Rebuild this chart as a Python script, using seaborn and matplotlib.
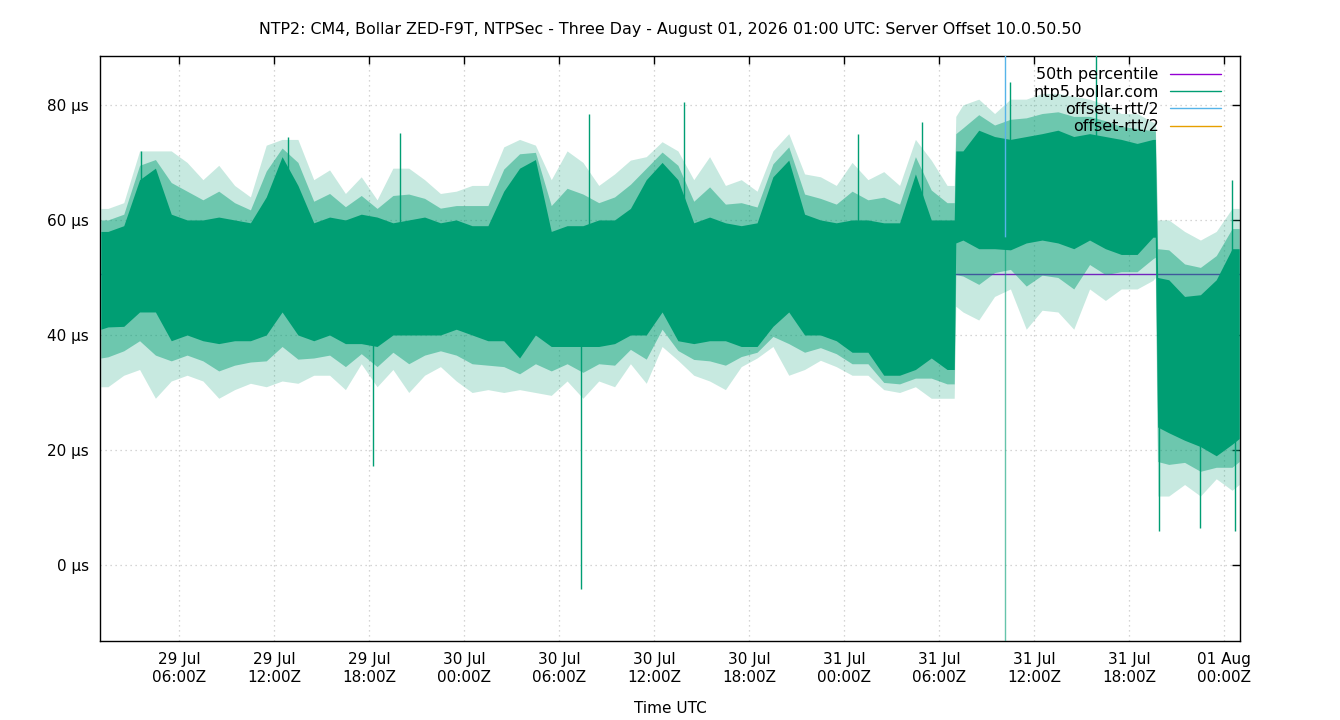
import numpy as np
import pandas as pd
import matplotlib
matplotlib.use('Agg')
import matplotlib.pyplot as plt
import matplotlib.dates as mdates
from matplotlib.ticker import FuncFormatter
import seaborn as sns

#########################
#         Data          #
#########################

title = 'NTP2: CM4, Bollar ZED-F9T, NTPSec - Three Day - August 01, 2026 01:00 UTC: Server Offset 10.0.50.50'
start = pd.Timestamp('2026-07-29 01:00')
end = pd.Timestamp('2026-08-01 01:00')

# offset envelope read per hour (hours after start, bucket centre), in µs
hour_centres = np.arange(72) + 0.5
core_hi = [58, 59, 67, 69, 61, 60, 60, 60.5, 60, 59.5, 64, 71, 66, 59.5, 60.5, 60, 61, 60.5,
           59.5, 60, 60.5, 59.5, 60, 59, 59, 65, 69, 70.5, 58, 59, 59, 60, 60, 62, 67, 70,
           67, 59.5, 60.5, 59.5, 59, 59.5, 67.5, 70.4, 61, 60, 59.5, 60, 60, 59.5, 59.5, 68, 60, 60,
           72, 75.6, 74.5, 74, 74.5, 75, 75.6, 74.5, 75, 74.5, 74, 73.3, 74, 49.6, 46.7, 47, 49.6, 55]
core_lo = [41.4, 41.5, 44, 44, 39, 40, 39, 38.5, 39, 39, 40, 44, 40, 39, 40, 38.5, 38.5, 38,
           40, 40, 40, 40, 41, 40, 39, 39, 36, 40, 38, 38, 38, 38, 38.5, 40, 40, 44,
           39, 38.5, 39, 39, 38, 38, 41.5, 44, 40, 40, 39, 37, 37, 33, 33, 34, 36, 34,
           56.5, 55, 55, 54.8, 56, 56.5, 56, 55, 56.5, 55, 54, 54, 57, 23, 21.7, 20.6, 19, 21]
spike_hi = [62, 63, 72, 72, 72, 70, 67, 69.5, 66, 64, 73, 74, 74, 67, 68.7, 64.6, 67.5, 63.5,
            69, 69, 67, 64.6, 65, 66, 66, 72.7, 74, 73, 67, 72, 70, 66, 68, 70.4, 71, 73.6,
            72, 67, 71, 66, 67, 65, 72, 75, 68, 67.5, 66, 70, 67, 68.4, 66, 74, 70.4, 66,
            80, 81, 78.5, 81, 81, 82, 82, 81.5, 81, 80, 78.5, 78.5, 77, 60, 58, 56.5, 58, 62]
spike_lo = [31, 33, 34, 29, 32, 33, 32, 29, 30.5, 31.6, 31, 32, 31.6, 33, 33, 30.5, 35, 31,
            34, 30, 33, 34.5, 32, 30, 30.5, 30, 30.5, 30, 29.5, 32, 29, 32, 31, 35, 31.6, 38,
            35.6, 33, 32, 30.5, 34.5, 36, 38, 33, 34, 35.6, 34.5, 33, 33, 30.5, 30, 31, 29, 29,
            44, 42.6, 46.7, 48, 41, 44.3, 44, 41, 48, 46, 48, 48, 49.5, 12, 14, 12, 15, 13]

# extra readings at the plot edges and at the two level shifts
edge_hours = [0.05, 53.95, 54.05, 66.65, 66.8, 71.95]
edge_core_hi = [58, 60, 72, 74, 50, 55]
edge_core_lo = [41, 34, 56, 57, 24, 22]
edge_spike_hi = [62, 66, 78, 77, 60, 62]
edge_spike_lo = [31, 29, 45, 50, 12, 14]

# single outliers (hour, µs)
outlier_hours = [2.6, 11.9, 17.25, 18.95, 30.4, 30.9, 36.9, 47.9, 51.9, 57.5, 62.9, 66.9, 69.5, 71.5, 71.7]
outlier_vals = [72, 74.5, 17.3, 75.1, -4.2, 78.5, 80.5, 75, 77, 84, 92, 6, 6.5, 67, 6]

# the one rtt spike
rtt_hour = 57.13
rtt_mid = 57.1

median_val = 50.6

##########################
#    Pre-processing      #
##########################

df = pd.DataFrame({
    'hour': np.concatenate([hour_centres, edge_hours]),
    'core_hi': core_hi + edge_core_hi,
    'core_lo': core_lo + edge_core_lo,
    'spike_hi': spike_hi + edge_spike_hi,
    'spike_lo': spike_lo + edge_spike_lo,
}).sort_values('hour')
df['Time'] = start + pd.to_timedelta(df['hour'], unit='h')
df['mid'] = (df['core_hi'] + df['core_lo']) / 2
# halfway between the dense core and the outer spikes
df['inner_hi'] = (df['core_hi'] + df['spike_hi']) / 2
df['inner_lo'] = (df['core_lo'] + df['spike_lo']) / 2

df_out = pd.DataFrame({'hour': outlier_hours, 'val': outlier_vals})
df_out['Time'] = start + pd.to_timedelta(df_out['hour'], unit='h')
df_out['base'] = np.interp(df_out['hour'], df['hour'], df['mid'])

df_med = pd.DataFrame({'Time': [start, end], 'val': [median_val, median_val]})

##########################
#       Plotting         #
##########################

green = '#009e73'
purple = '#9400d3'
blue = '#56b4e9'
orange = '#e69f00'

sns.set_theme(style='white')
plt.rcParams['font.family'] = ['DejaVu Sans']
plt.rcParams['text.color'] = 'black'

fig = plt.figure(figsize=(13.4, 7.2), dpi=100)
ax = fig.add_axes([100 / 1340, 79 / 720, 1140 / 1340, 585 / 720])

sns.lineplot(x='Time', y='val', data=df_med, ax=ax, color=purple, lw=1, zorder=1)

# sparse outer samples light, denser inner samples darker, solid core
ax.fill_between(df['Time'], df['spike_lo'], df['spike_hi'], color=green, alpha=0.22, lw=0, zorder=2)
ax.fill_between(df['Time'], df['inner_lo'], df['inner_hi'], color=green, alpha=0.45, lw=0, zorder=2)
ax.fill_between(df['Time'], df['core_lo'], df['core_hi'], color=green, lw=0, zorder=3)
ax.vlines(df_out['Time'], df_out['base'], df_out['val'], color=green, lw=1, zorder=3)

rtt_time = start + pd.Timedelta(hours=rtt_hour)
ax.vlines([rtt_time], rtt_mid, 100, color=blue, lw=1, zorder=3)
ax.vlines([rtt_time], -30, rtt_mid, color=green, lw=1, alpha=0.6, zorder=3)

ax.set_xlim(start, end)
ax.set_ylim(-13.2, 88.5)
ax.set_yticks([0, 20, 40, 60, 80])
ax.yaxis.set_major_formatter(FuncFormatter(lambda v, p: f'{v:.0f} µs'))

ticks = pd.date_range('2026-07-29 06:00', '2026-08-01 00:00', freq='6h')
ax.set_xticks(ticks)
ax.xaxis.set_major_formatter(mdates.DateFormatter('%d %b\n%H:%MZ'))

ax.set_xlabel('Time UTC', fontsize=11, labelpad=12, color='black')
ax.set_ylabel('')
ax.set_title(title, fontsize=11.4, pad=16, color='black')

ax.grid(True, color='#c8c8c8', linestyle=(0, (1, 3)), lw=0.9)
ax.tick_params(direction='in', length=6, width=1, top=True, right=True, labelsize=11, pad=8,
               colors='black', labelcolor='black')
for s in ax.spines.values():
    s.set_color('black')
    s.set_linewidth(1)

handles = [
    plt.Line2D([], [], color=purple, lw=1),
    plt.Line2D([], [], color=green, lw=1),
    plt.Line2D([], [], color=blue, lw=1),
    plt.Line2D([], [], color=orange, lw=1),
]
labels = ['50th percentile', 'ntp5.bollar.com', 'offset+rtt/2', 'offset-rtt/2']
leg = ax.legend(handles, labels, loc='upper right', frameon=False, markerfirst=False, fontsize=11.5,
                handlelength=3.2, handletextpad=0.7, labelspacing=0.15, borderaxespad=0.3,
                bbox_to_anchor=(0.993, 1.0))
for t in leg.get_texts():
    t.set_color('black')
leg.set_zorder(5)

fig.savefig('out.png', dpi=100)
